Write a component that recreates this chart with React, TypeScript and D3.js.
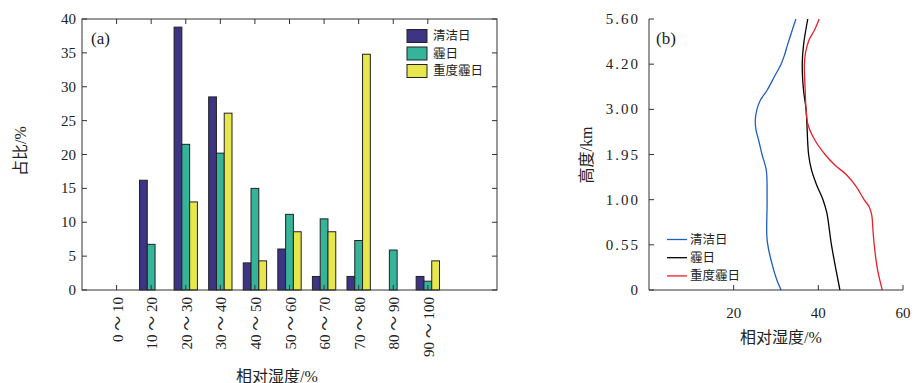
import React from "react";
import * as d3 from "d3";

const categories = ["0 ～ 10", "10 ～ 20", "20 ～ 30", "30 ～ 40", "40 ～ 50", "50 ～ 60", "60 ～ 70", "70 ～ 80", "80 ～ 90", "90 ～ 100"];
const cleanPct = [0, 16.2, 38.8, 28.5, 4.0, 6.05, 2.0, 2.0, 0, 2.0];
const hazePct = [0, 6.74, 21.5, 20.2, 15.0, 11.17, 10.5, 7.3, 5.9, 1.3];
const heavyPct = [0, 0, 13.0, 26.1, 4.3, 8.6, 8.6, 34.8, 0, 4.3];
const seriesNames = ["清洁日", "霾日", "重度霾日"];
const leftYTicks = [0, 5, 10, 15, 20, 25, 30, 35, 40];

const levelLabels = ["0", "0.55", "1.00", "1.95", "3.00", "4.20", "5.60"];
const levelKm = [0, 0.55, 1.0, 1.95, 3.0, 4.2, 5.6];
const rightXTicks = [20, 40, 60];

// [height km, RH %]
const cleanProfile: [number, number][] = [
  [0, 31.2], [0.122, 30.2], [0.33, 29.0], [0.6, 27.9], [1.0, 27.9], [1.62, 27.7], [1.95, 26.7],
  [2.281, 25.9], [2.51, 25.3], [2.745, 25.1], [3.0, 25.5], [3.24, 26.3], [3.507, 27.9], [3.907, 29.8],
  [4.2, 31.2], [4.48, 32.0], [4.79, 32.7], [5.6, 34.7],
];
const hazeProfile: [number, number][] = [
  [0, 45.1], [0.55, 43.1], [0.87, 42.0], [1.0, 41.1], [1.31, 39.6], [1.62, 38.4], [1.95, 37.7],
  [3.0, 37.1], [3.507, 36.5], [4.2, 36.2], [4.79, 36.5], [5.6, 37.5],
];
const heavyProfile: [number, number][] = [
  [0, 55.1], [0.244, 54.0], [0.55, 53.2], [0.7, 52.9], [0.85, 52.6], [0.93, 52.0], [1.0, 50.8],
  [1.27, 49.0], [1.52, 46.7], [1.728, 43.9], [1.95, 41.6], [2.281, 39.2], [2.629, 37.6], [3.0, 37.1],
  [3.507, 36.9], [4.2, 36.7], [4.573, 37.0], [4.947, 37.8], [5.258, 39.1], [5.6, 40.2],
];

const barColors = ["#3d3484", "#36b49a", "#e7e64b"];
const lineColors = ["#1f5fbf", "#000000", "#e8202a"];
const FONT = "'Liberation Serif', 'Times New Roman', 'Noto Sans CJK SC', serif";
const CJK = "'Liberation Serif', 'Noto Sans CJK SC', serif";
const TXT = "#222";

export default function App() {
  // Left chart
  const L = { x0: 82, x1: 497, y0: 290, y1: 19 };
  const xA = d3.scaleLinear().domain([0, 12]).range([L.x0, L.x1]);
  const yA = d3.scaleLinear().domain([0, 40]).range([L.y0, L.y1]);
  const bw = 0.225;
  const allSeries = [cleanPct, hazePct, heavyPct];

  // Right chart
  const R = { x0: 649, x1: 903, y0: 290, y1: 19 };
  const xB = d3.scaleLinear().domain([0, 60]).range([R.x0, R.x1]);
  const yIdx = d3.scaleLinear().domain([0, levelKm.length - 1]).range([R.y0, R.y1]);
  const yB = d3.scaleLinear().domain(levelKm).range(levelKm.map((_, i) => yIdx(i)));
  const line = d3
    .line<[number, number]>()
    .x((d) => xB(d[1]))
    .y((d) => yB(d[0]))
    .curve(d3.curveCatmullRom.alpha(0.5));
  const profiles = [cleanProfile, hazeProfile, heavyProfile];

  const tick = 5;

  return (
    <svg width={914} height={383} style={{ position: "absolute", left: 0, top: 0, background: "#fff" }}>
      {/* ===== Left chart ===== */}
      <g>
        {categories.map((c, i) =>
          allSeries.map((s, k) => {
            const x = xA(i + 1 + (k - 1) * bw - bw / 2);
            const w = xA(bw) - xA(0);
            const v = s[i];
            return (
              <rect
                key={`b${i}-${k}`}
                x={x}
                y={yA(v)}
                width={w}
                height={Math.max(0, yA(0) - yA(v))}
                fill={barColors[k]}
                stroke="#222"
                strokeWidth={1}
              />
            );
          })
        )}
        {/* frame */}
        <rect x={L.x0} y={L.y1} width={L.x1 - L.x0} height={L.y0 - L.y1} fill="none" stroke="#333" strokeWidth={1} />
        {/* y ticks */}
        {leftYTicks.map((t) => (
          <g key={`ly${t}`}>
            <line x1={L.x0} x2={L.x0 + tick} y1={yA(t)} y2={yA(t)} stroke="#333" />
            <line x1={L.x1} x2={L.x1 - tick} y1={yA(t)} y2={yA(t)} stroke="#333" />
            <text x={L.x0 - 6} y={yA(t)} textAnchor="end" dominantBaseline="central" fontFamily={FONT} fontSize={15} fill={TXT}>
              {t}
            </text>
          </g>
        ))}
        {/* x ticks */}
        {categories.map((c, i) => (
          <g key={`lx${i}`}>
            <line x1={xA(i + 1)} x2={xA(i + 1)} y1={L.y1} y2={L.y1 + tick} stroke="#333" />
            <line x1={xA(i + 1)} x2={xA(i + 1)} y1={L.y0} y2={L.y0 - tick} stroke="#333" />
            <text
              transform={`translate(${xA(i + 1) + 1},${L.y0 + 7}) rotate(-90)`}
              textAnchor="end"
              dominantBaseline="central"
              fontFamily={CJK}
              fontSize={15}
              fill={TXT}
            >
              {c}
            </text>
          </g>
        ))}
        <text x={277} y={376} textAnchor="middle" dominantBaseline="central" fontFamily={CJK} fontSize={16} fill={TXT}>
          相对湿度/%
        </text>
        <text transform="translate(20,151) rotate(-90)" textAnchor="middle" dominantBaseline="central" fontFamily={CJK} fontSize={16} fill={TXT}>
          占比/%
        </text>
        <text x={91} y={44} fontFamily={FONT} fontSize={17} fill={TXT}>
          (a)
        </text>
        {/* legend */}
        {seriesNames.map((n, k) => (
          <g key={`lg${k}`}>
            <rect x={407} y={29.5 + k * 17.5} width={20} height={13} fill={barColors[k]} stroke="#222" strokeWidth={1} />
            <text x={433} y={36 + k * 17.5} dominantBaseline="central" fontFamily={CJK} fontSize={12.5} fill={TXT}>
              {n}
            </text>
          </g>
        ))}
      </g>

      {/* ===== Right chart ===== */}
      <g>
        {profiles.map((p, k) => (
          <path key={`p${k}`} d={line(p) || ""} fill="none" stroke={lineColors[k]} strokeWidth={1.3} />
        ))}
        <line x1={R.x0} x2={R.x0} y1={R.y1} y2={R.y0} stroke="#333" />
        <line x1={R.x0} x2={R.x1} y1={R.y0} y2={R.y0} stroke="#333" />
        {levelKm.map((h, i) => (
          <g key={`ry${i}`}>
            <line x1={R.x0} x2={R.x0 + tick} y1={yB(h)} y2={yB(h)} stroke="#333" />
            <text x={R.x0 - 9} y={yB(h)} textAnchor="end" dominantBaseline="central" fontFamily={FONT} fontSize={15} letterSpacing={2} fill={TXT}>
              {levelLabels[i]}
            </text>
          </g>
        ))}
        {rightXTicks.map((t) => (
          <g key={`rx${t}`}>
            <line x1={xB(t)} x2={xB(t)} y1={R.y0} y2={R.y0 - tick} stroke="#333" />
            <text x={xB(t)} y={313} textAnchor="middle" dominantBaseline="central" fontFamily={FONT} fontSize={15} fill={TXT}>
              {t}
            </text>
          </g>
        ))}
        <text x={781} y={337} textAnchor="middle" dominantBaseline="central" fontFamily={CJK} fontSize={16} fill={TXT}>
          相对湿度/%
        </text>
        <text transform="translate(586,155) rotate(-90)" textAnchor="middle" dominantBaseline="central" fontFamily={CJK} fontSize={16} fill={TXT}>
          高度/km
        </text>
        <text x={656} y={44} fontFamily={FONT} fontSize={17} fill={TXT}>
          (b)
        </text>
        {seriesNames.map((n, k) => (
          <g key={`rl${k}`}>
            <line x1={667} x2={687} y1={239.5 + k * 18.2} y2={239.5 + k * 18.2} stroke={lineColors[k]} strokeWidth={1.3} />
            <text x={690} y={239.5 + k * 18.2} dominantBaseline="central" fontFamily={CJK} fontSize={12.5} fill={TXT}>
              {n}
            </text>
          </g>
        ))}
      </g>
    </svg>
  );
}
